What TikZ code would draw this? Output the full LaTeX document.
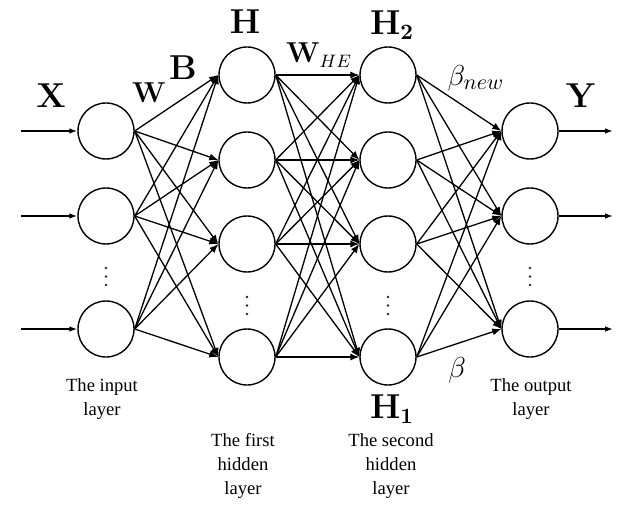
\documentclass[tikz,border=0pt]{standalone}
\usepackage[no-math]{fontspec}
\setmainfont{Liberation Serif}
\usetikzlibrary{arrows.meta}
\tikzset{
  neuron/.style={circle,draw,line width=0.7pt,minimum size=28pt,inner sep=0pt},
  conn/.style={line width=0.65pt,-{Latex[length=4.5pt,width=3.6pt]}},
  ioarrow/.style={line width=0.7pt,-{Latex[length=4pt,width=2.8pt]}},
  caption/.style={align=center,font=\fontsize{9.3}{12}\selectfont},
  biglbl/.style={inner sep=0pt,font=\fontsize{16}{18}\selectfont},
  midlbl/.style={inner sep=0pt,font=\fontsize{13.5}{15}\selectfont},
  betalbl/.style={inner sep=0pt,font=\fontsize{15}{17}\selectfont},
  dotmark/.style={fill=black!85}
}
\begin{document}
\begin{tikzpicture}[x=0.5pt,y=-0.5pt]
\useasboundingbox (0,0) rectangle (635,507);
% input layer
\node[neuron] (i1) at (106,131) {};
\node[neuron] (i2) at (106,216) {};
\node[neuron] (i3) at (106,329) {};
% first hidden
\node[neuron] (h1) at (247,75) {};
\node[neuron] (h2) at (247,160) {};
\node[neuron] (h3) at (247,244) {};
\node[neuron] (h4) at (247,357) {};
% second hidden
\node[neuron] (g1) at (388,75) {};
\node[neuron] (g2) at (388,160) {};
\node[neuron] (g3) at (388,244) {};
\node[neuron] (g4) at (388,357) {};
% output
\node[neuron] (o1) at (530,131) {};
\node[neuron] (o2) at (530,216) {};
\node[neuron] (o3) at (530,329) {};
% input/output arrows
\foreach \k/\y in {1/131,2/216,3/329}{
  \coordinate (in\k) at (21,\y);
  \coordinate (out\k) at (613,\y);
  \draw[ioarrow] (in\k) -- (i\k.west);
  \draw[ioarrow] (o\k.east) -- (out\k);
}
% connections
\foreach \a in {1,2,3}{\foreach \b in {1,2,3,4}{\draw[conn] (i\a.east) -- (h\b.west);}}
\foreach \a in {1,2,3,4}{\foreach \b in {1,2,3,4}{\draw[conn] (h\a.east) -- (g\b.west);}}
\foreach \a in {1,2,3,4}{\foreach \b in {1,2,3}{\draw[conn] (g\a.east) -- (o\b.west);}}
% dots
\foreach \x/\y in {106/268,530/268,247/297,388/297}{
  \foreach \d in {0,8.5,17}{\fill[dotmark] (\x,\y+\d) circle (1.3);}
}
% labels
\node[biglbl] (lx) at (51,96) {$\mathbf{X}$};
\node[biglbl] (ly) at (581,96) {$\mathbf{Y}$};
\node[biglbl] (lh) at (245,22) {$\mathbf{H}$};
\node[biglbl] (lh2) at (392,25) {$\mathbf{H_2}$};
\node[biglbl] (lh1) at (392,409) {$\mathbf{H_1}$};
\node[midlbl] (lw) at (149,93) {$\mathbf{W}$};
\node[biglbl] (lb) at (183,68) {$\mathbf{B}$};
\node[midlbl] (lwhe) at (319,55) {$\mathbf{W}_{HE}$};
\node[betalbl] (lbn) at (476,78) {$\beta_{new}$};
\node[betalbl] (lbeta) at (457,370) {$\beta$};
% captions
\node[caption] (ci) at (102,399) {The input\\layer};
\node[caption] (ch) at (243,466) {The first\\hidden\\layer};
\node[caption] (cg) at (391,466) {The second\\hidden\\layer};
\node[caption] (co) at (531,399) {The output\\layer};
\end{tikzpicture}
\end{document}
